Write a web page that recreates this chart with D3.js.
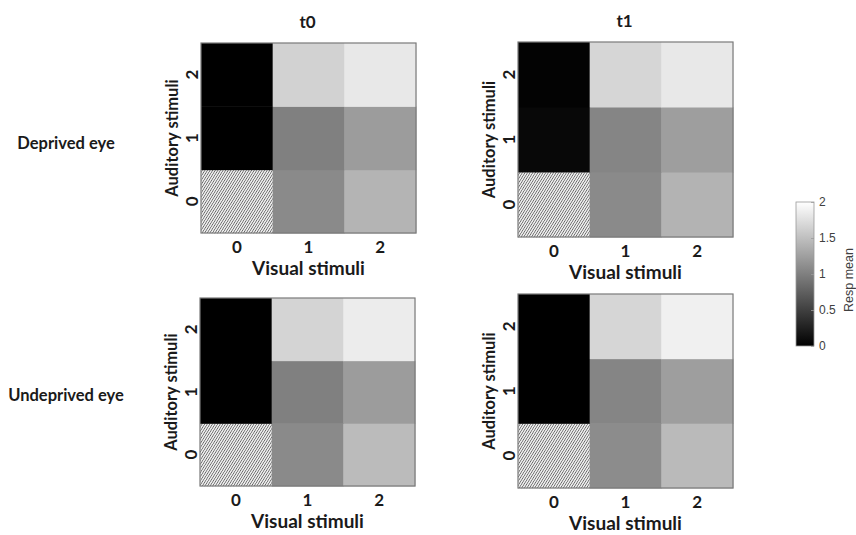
<!DOCTYPE html>
<html>
<head>
<meta charset="utf-8">
<script src="https://cdn.jsdelivr.net/npm/d3@7/dist/d3.min.js"></script>
<style>
  html, body { margin: 0; padding: 0; background: #fff; }
  svg { display: block; }
  .lbl { font-family: Lato, "Open Sans", sans-serif; font-weight: 700; fill: #1a1a1a; }
  .cb { font-family: "Liberation Sans", Arial, sans-serif; fill: #404040; }
</style>
</head>
<body>
<svg id="chart" width="856" height="535"></svg>
<script>
// Stimulus levels on each axis
const visualLevels = ["0", "1", "2"];
const auditoryLevels = ["0", "1", "2"];
const timepoints = ["t0", "t1"];
const eyes = ["Deprived eye", "Undeprived eye"];
const colorTicks = [0, 0.5, 1, 1.5, 2];

// Mean response per cell: rows = auditory level 0..2, columns = visual level 0..2
// (null = no-stimulus condition, drawn hatched)
const deprivedT0 = [
  [null, 1.08, 1.41],
  [0.00, 1.00, 1.22],
  [0.00, 1.65, 1.82]
];
const deprivedT1 = [
  [null, 1.08, 1.40],
  [0.06, 1.04, 1.24],
  [0.02, 1.68, 1.82]
];
const undeprivedT0 = [
  [null, 1.08, 1.47],
  [0.00, 1.00, 1.22],
  [0.00, 1.66, 1.85]
];
const undeprivedT1 = [
  [null, 1.10, 1.46],
  [0.00, 1.04, 1.24],
  [0.00, 1.68, 1.88]
];
const panelData = [[deprivedT0, deprivedT1], [undeprivedT0, undeprivedT1]];

const svg = d3.select("#chart");
const color = d3.scaleLinear().domain([0, 2]).range(["#000000", "#ffffff"]).clamp(true);

// Fine hatch pattern for missing cells
const defs = svg.append("defs");
const hs = 2.2;
const pat = defs.append("pattern")
  .attr("id", "hatch")
  .attr("patternUnits", "userSpaceOnUse")
  .attr("width", hs).attr("height", hs)
  .attr("patternTransform", "rotate(32)");
pat.append("rect").attr("width", hs).attr("height", hs).attr("fill", "#f0f0f0");
pat.append("line").attr("x1", 0.4).attr("y1", 0).attr("x2", 0.4).attr("y2", hs)
  .attr("stroke", "#5a5a5a").attr("stroke-width", 0.7);

// Panel frames: [left, top] per grid row/column
const panelLeft = [[201, 518], [200, 518]];
const panelTop = [[43, 42], [298, 294]];
const panelW = 215;
const panelH = [[190, 195], [188, 194]];

for (let r = 0; r < 2; r++) {
  for (let c = 0; c < 2; c++) {
    const x0 = panelLeft[r][c], y0 = panelTop[r][c], h = panelH[r][c];
    const g = svg.append("g").attr("transform", `translate(${x0},${y0})`);
    const x = d3.scaleBand().domain(visualLevels).range([0, panelW]);
    const y = d3.scaleBand().domain(auditoryLevels).range([h, 0]);
    const values = panelData[r][c];

    const cells = [];
    auditoryLevels.forEach((a, i) => visualLevels.forEach((v, j) => {
      cells.push({ a, v, value: values[i][j] });
    }));

    g.selectAll("rect.cell").data(cells).join("rect")
      .attr("class", "cell")
      .attr("x", d => x(d.v))
      .attr("y", d => y(d.a))
      .attr("width", x.bandwidth() + 0.5)
      .attr("height", y.bandwidth() + 0.5)
      .attr("fill", d => d.value === null ? "url(#hatch)" : color(d.value))
      .attr("stroke", d => d.value === null ? "#ffffff" : "none")
      .attr("stroke-width", 0.8)
      .attr("stroke-dasharray", "2,1");

    // box
    g.append("rect").attr("width", panelW).attr("height", h)
      .attr("fill", "none").attr("stroke", "#7a7a7a").attr("stroke-width", 1.2);

    // x axis tick labels
    const xAxis = d3.axisBottom(x).tickSize(0).tickPadding(0);
    const xg = g.append("g").attr("transform", `translate(0,${h})`).call(xAxis);
    xg.select(".domain").remove();
    xg.selectAll("text").attr("class", "lbl").attr("font-size", 17)
      .attr("y", 14).attr("dy", "0.35em").style("fill", "#1a1a1a");

    // y axis tick labels (rotated)
    const yAxis = d3.axisLeft(y).tickSize(0).tickPadding(0);
    const yg = g.append("g").call(yAxis);
    yg.select(".domain").remove();
    yg.selectAll("text").attr("class", "lbl").attr("font-size", 17)
      .attr("x", 0)
      .attr("text-anchor", "middle")
      .attr("transform", "translate(-9,0) rotate(-90)")
      .attr("dy", "0.35em").style("fill", "#1a1a1a");

    g.append("text").attr("class", "lbl").attr("font-size", 19)
      .attr("x", panelW / 2).attr("y", h + 35).attr("dy", "0.35em")
      .attr("text-anchor", "middle").text("Visual stimuli");

    g.append("text").attr("class", "lbl").attr("font-size", 16.5)
      .attr("transform", `translate(-29,${h / 2}) rotate(-90)`)
      .attr("dy", "0.35em").attr("text-anchor", "middle").text("Auditory stimuli");

    if (r === 0) {
      g.append("text").attr("class", "lbl").attr("font-size", 17)
        .attr("x", panelW / 2 - 1).attr("y", -21).attr("dy", "0.35em")
        .attr("text-anchor", "middle").text(timepoints[c]);
    }
  }
}

// Row labels
const rowLabelY = [143, 395];
eyes.forEach((e, i) => {
  svg.append("text").attr("class", "lbl").attr("font-size", 16.5)
    .attr("x", 66).attr("y", rowLabelY[i]).attr("dy", "0.35em")
    .attr("text-anchor", "middle").text(e);
});

// Colorbar
const cbX = 796, cbW = 18, cbTop = 202, cbBot = 346;
const grad = defs.append("linearGradient").attr("id", "cbgrad")
  .attr("x1", 0).attr("y1", 1).attr("x2", 0).attr("y2", 0);
grad.append("stop").attr("offset", "0%").attr("stop-color", color(0));
grad.append("stop").attr("offset", "100%").attr("stop-color", color(2));
const cy = d3.scaleLinear().domain([0, 2]).range([cbBot, cbTop]);
svg.append("rect").attr("x", cbX).attr("y", cbTop).attr("width", cbW).attr("height", cbBot - cbTop)
  .attr("fill", "url(#cbgrad)").attr("stroke", "#9a9a9a").attr("stroke-width", 0.8);
const cAxis = d3.axisRight(cy).tickValues(colorTicks).tickSize(-3).tickPadding(5)
  .tickFormat(d3.format("~g"));
const cg = svg.append("g").attr("transform", `translate(${cbX + cbW},0)`).call(cAxis);
cg.select(".domain").remove();
cg.selectAll(".tick line").attr("stroke", "#9a9a9a").attr("stroke-width", 0.8);
cg.selectAll("text").attr("class", "cb").attr("font-size", 12).style("fill", "#404040");
svg.append("text").attr("class", "cb").attr("font-size", 12.5)
  .attr("transform", `translate(849,280) rotate(-90)`)
  .attr("dy", "0.35em").attr("text-anchor", "middle").style("fill", "#404040").text("Resp mean");
</script>
</body>
</html>
